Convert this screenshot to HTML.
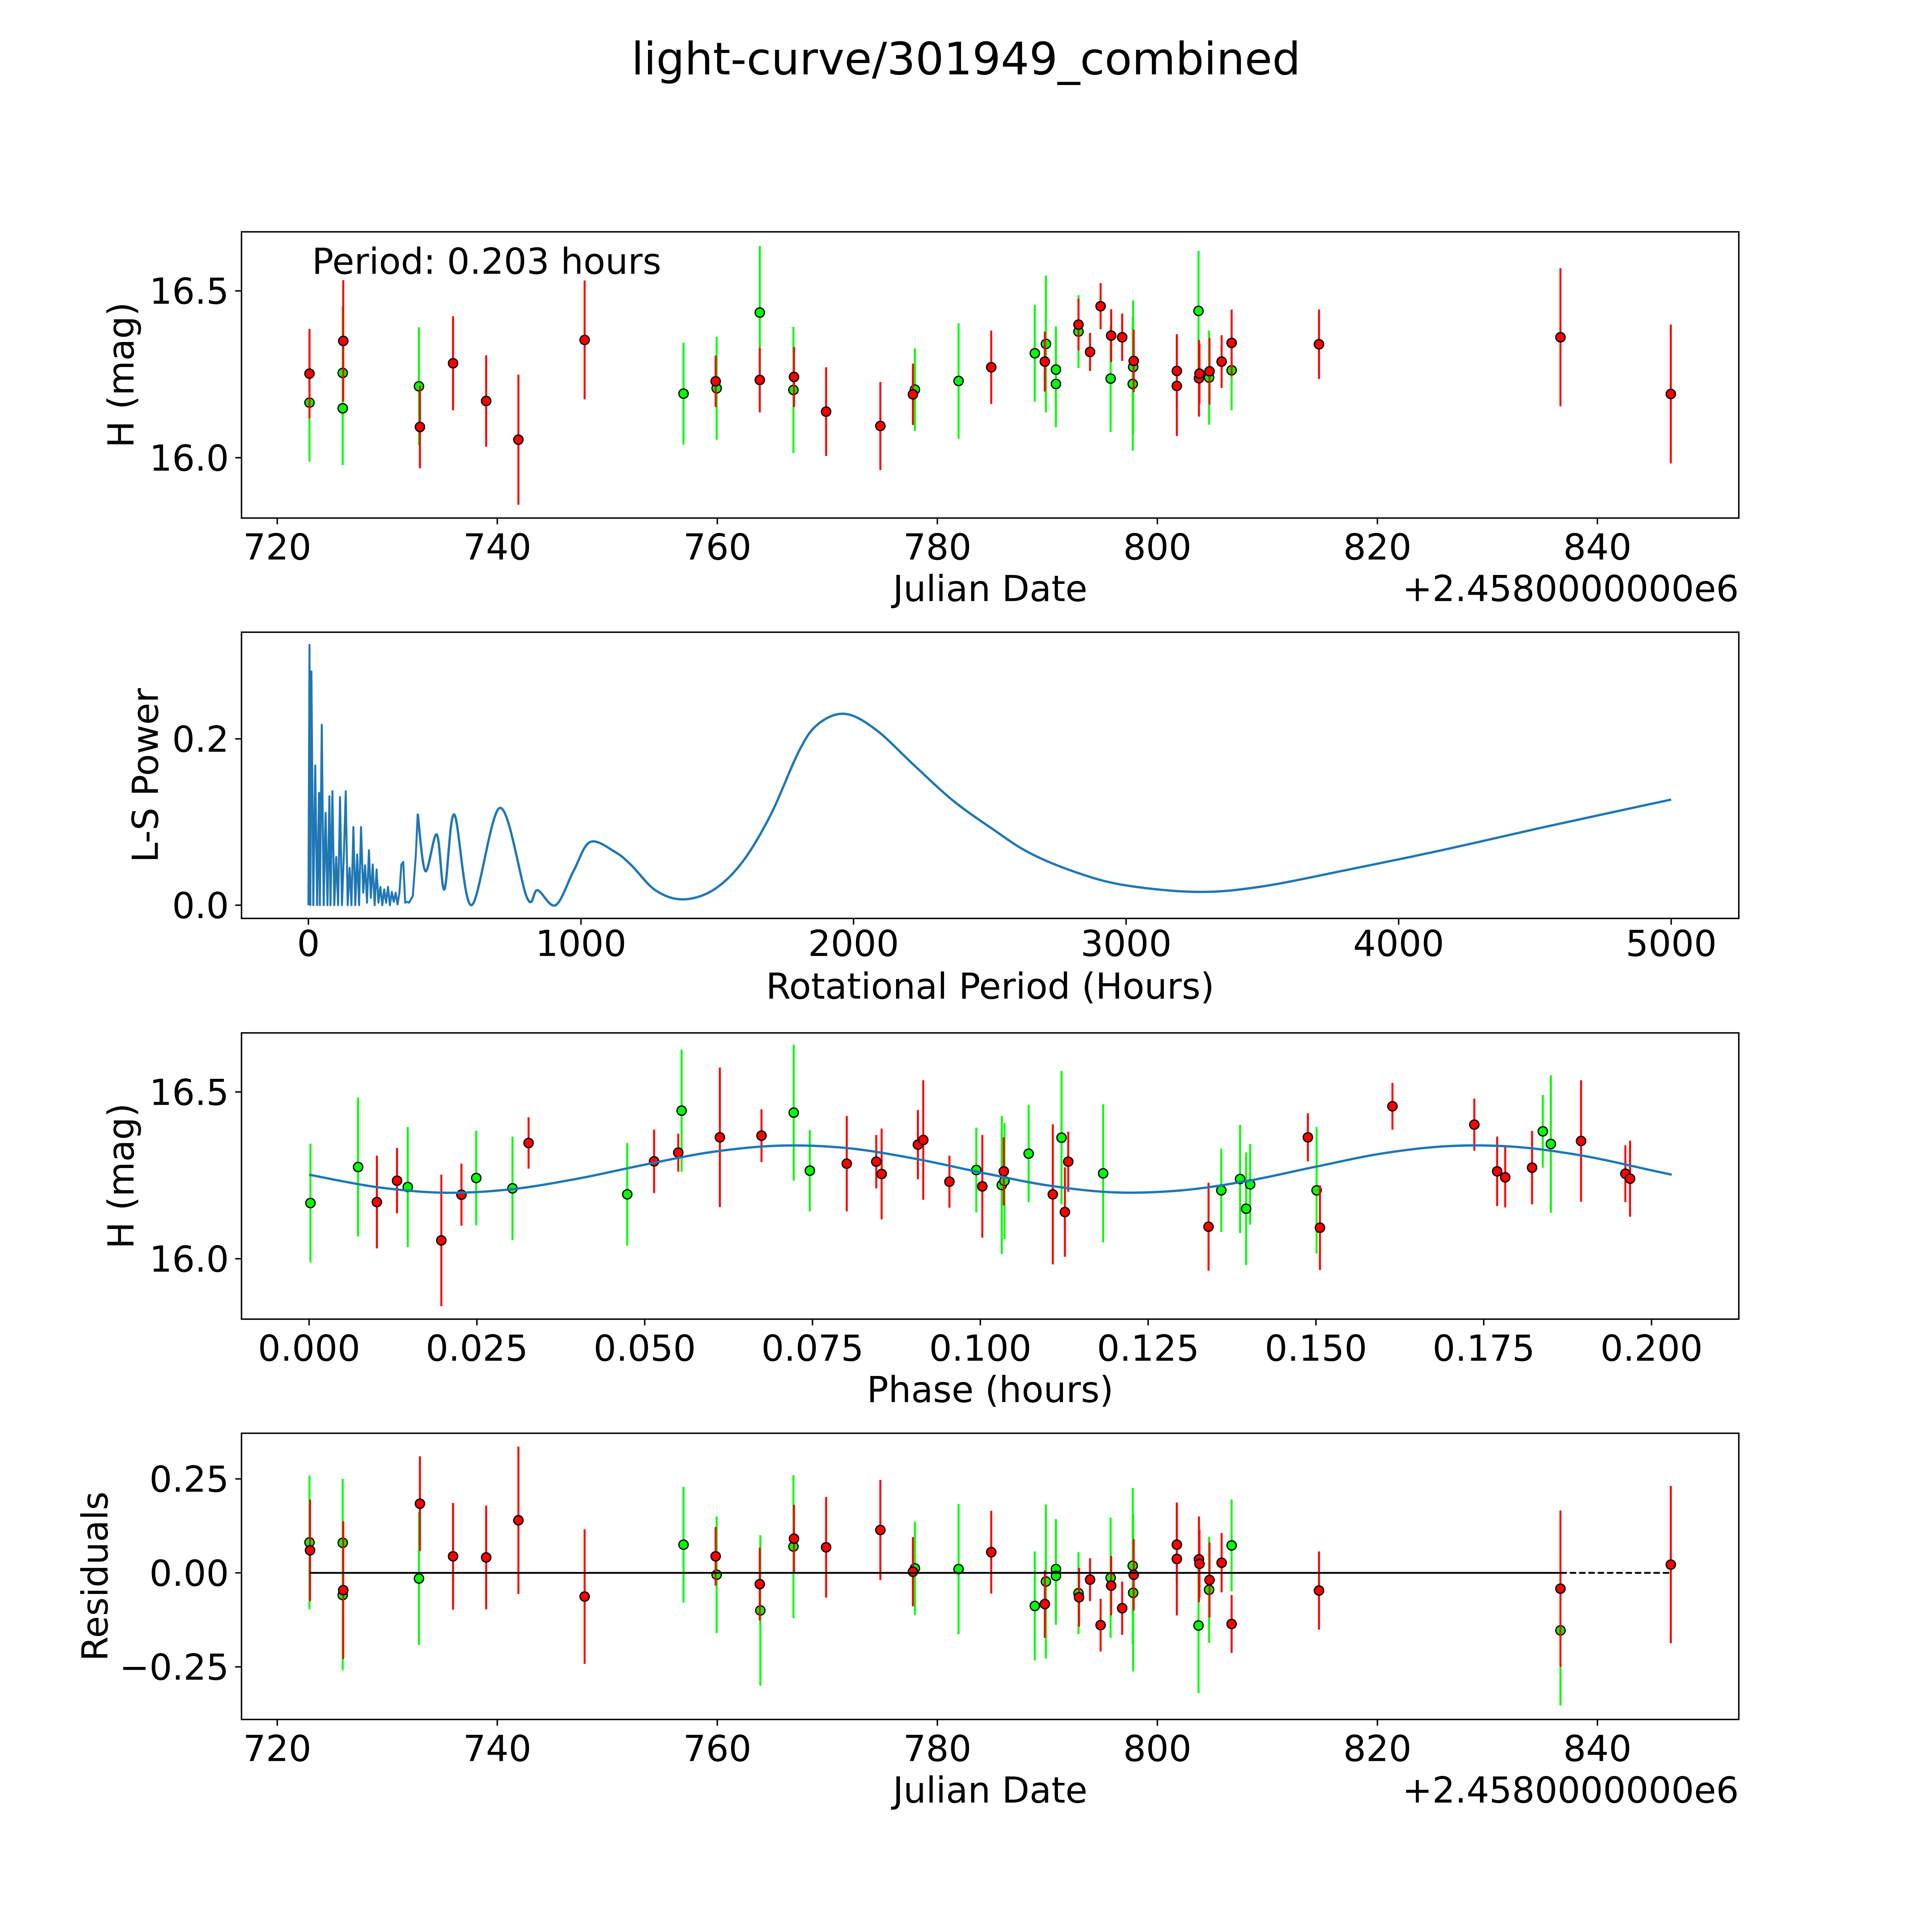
<!DOCTYPE html>
<html><head><meta charset="utf-8"><title>light-curve/301949_combined</title>
<style>
html,body{margin:0;padding:0;background:#fff;overflow:hidden;}
svg{display:block;width:100vw;height:100vw;font-family:"DejaVu Sans","Liberation Sans",sans-serif;}
</style></head>
<body>
<svg id="fig" xmlns="http://www.w3.org/2000/svg" viewBox="0 0 5400 5400" preserveAspectRatio="xMinYMin meet">
<rect x="0" y="0" width="5400" height="5400" fill="#ffffff"/>
<text x="2700" y="208" font-size="125" text-anchor="middle" fill="#000">light-curve/301949_combined</text>
</svg>
<script>
// ---- Panel 1: light curve (Julian Date) ----
const p1GreenDays=[722.93,725.95,725.95,732.88,756.93,759.94,763.86,766.92,777.96,781.93,788.86,789.87,790.78,790.78,792.83,795.75,797.76,797.8,803.74,804.7,806.75];
const p1GreenMags=[16.165,16.254,16.148,16.214,16.192,16.208,16.435,16.203,16.204,16.230,16.313,16.341,16.264,16.221,16.378,16.237,16.221,16.272,16.440,16.240,16.262];
const p1GreenErrs=[0.177,0.2,0.17,0.177,0.153,0.154,0.2,0.189,0.124,0.173,0.145,0.205,0.13,0.13,0.109,0.16,0.2,0.2,0.18,0.141,0.12];
const p1RedDays=[722.93,726.0,732.97,735.98,738.99,741.92,747.94,759.85,763.86,766.97,769.89,774.82,777.78,784.9,789.77,792.83,793.88,794.84,795.8,796.8,797.85,801.77,801.77,803.78,803.83,804.74,805.84,806.75,814.69,836.64,846.67];
const p1RedMags=[16.252,16.350,16.092,16.283,16.170,16.054,16.353,16.229,16.233,16.242,16.138,16.095,16.190,16.271,16.288,16.399,16.317,16.454,16.366,16.361,16.290,16.260,16.215,16.238,16.252,16.259,16.288,16.344,16.340,16.361,16.191];
const p1RedErrs=[0.134,0.182,0.124,0.141,0.137,0.195,0.178,0.077,0.097,0.09,0.133,0.132,0.092,0.11,0.09,0.078,0.057,0.069,0.079,0.071,0.094,0.11,0.15,0.115,0.09,0.10,0.079,0.1,0.104,0.207,0.208];
const jdTicks=[720,740,760,780,800,820,840];
const magTicks=[16.0,16.5];
const magTickLabels=["16.0","16.5"];

// ---- Panel 2: Lomb-Scargle periodogram ----
const lsSpikyHours=[0,4,7,11,18,25,32,39,42,49,56,63,70,77,81,88,95,102,109,116,123,130,137,144,151,158,165,172,179,186,193,201,208,215,222,229,236,243,250,257,264,271,278,285,292,299,306,313,320,327,334,341,348,355,362,369,376,383,394,401];
const lsSpikyPower=[0,0.313,0,0.281,0,0.168,0,0.135,0,0.217,0,0.111,0,0.131,0,0.137,0,0.058,0,0.130,0,0.060,0.137,0,0.045,0,0.094,0,0.061,0,0.094,0.015,0.048,0.003,0.066,0.009,0.049,0,0.043,0.003,0.022,0,0.019,0.003,0.022,0,0.016,0.004,0.015,0.001,0.015,0.049,0.052,0.003,0.004,0.003,0.007,0.011,0.060,0.110];
const lsSmoothHours=[401,429,471,499,535,598,703,802,841,907,974,1034,1125,1185,1273,1372,1484,1590,1695,1801,1871,1969,2082,2223,2364,2504,2645,2821,2996,3257,3489,3805,4157,4508,5000];
const lsSmoothPower=[0.110,0.041,0.085,0.019,0.109,0.0,0.117,0.009,0.018,0.0,0.042,0.076,0.064,0.048,0.018,0.007,0.018,0.051,0.108,0.186,0.218,0.230,0.211,0.168,0.126,0.093,0.063,0.039,0.024,0.016,0.022,0.042,0.066,0.092,0.127];
const periodTicks=[0,1000,2000,3000,4000,5000];
const powerTicks=[0.0,0.2];
const powerTickLabels=["0.0","0.2"];

// ---- Panel 3: phase-folded ----
const p3GreenPhase=[0.0002,0.0073,0.0147,0.0249,0.0303,0.0474,0.0555,0.0722,0.0746,0.0994,0.1032,0.1036,0.1072,0.1121,0.1183,0.1359,0.1387,0.1396,0.1402,0.1501,0.1838,0.185];
const p3GreenMags=[16.167,16.275,16.215,16.242,16.211,16.193,16.444,16.438,16.264,16.266,16.221,16.233,16.315,16.363,16.256,16.205,16.239,16.150,16.223,16.205,16.382,16.344];
const p3GreenErrs=[0.178,0.208,0.18,0.142,0.155,0.154,0.183,0.204,0.122,0.127,0.207,0.174,0.146,0.2,0.207,0.125,0.162,0.169,0.121,0.19,0.109,0.206];
const p3RedPhase=[0.0101,0.0131,0.0197,0.0227,0.0327,0.0514,0.055,0.0612,0.0674,0.0801,0.0845,0.0853,0.0907,0.0915,0.0954,0.1003,0.1035,0.1108,0.1126,0.1131,0.134,0.1488,0.1506,0.1614,0.1736,0.177,0.1782,0.1822,0.1895,0.1961,0.1968];
const p3RedMags=[16.170,16.234,16.055,16.192,16.347,16.292,16.318,16.364,16.369,16.285,16.291,16.254,16.342,16.356,16.231,16.217,16.262,16.193,16.140,16.291,16.096,16.364,16.093,16.457,16.402,16.262,16.244,16.273,16.353,16.255,16.240];
const p3RedErrs=[0.139,0.098,0.197,0.093,0.077,0.095,0.057,0.209,0.079,0.143,0.08,0.136,0.104,0.179,0.078,0.154,0.102,0.21,0.134,0.09,0.132,0.072,0.127,0.07,0.078,0.104,0.09,0.11,0.182,0.085,0.114];
const modelPhase=[0,0.01,0.02,0.03,0.04,0.05,0.06,0.07,0.08,0.09,0.10,0.11,0.12,0.13,0.14,0.15,0.16,0.17,0.18,0.19,0.20,0.203];
const modelMags=[16.252,16.215,16.198,16.208,16.240,16.282,16.320,16.339,16.332,16.301,16.259,16.220,16.199,16.205,16.234,16.276,16.316,16.338,16.335,16.308,16.265,16.252];
const phaseTicks=[0,0.025,0.05,0.075,0.1,0.125,0.15,0.175,0.2];
const phaseTickLabels=["0.000","0.025","0.050","0.075","0.100","0.125","0.150","0.175","0.200"];

// ---- Panel 4: residuals ----
const p4GreenDays=[722.93,725.95,725.95,732.88,756.93,759.94,763.91,766.92,777.96,781.93,788.86,789.87,790.78,790.78,792.83,795.75,797.76,797.8,803.74,804.7,806.75,836.64];
const p4GreenRes=[0.081,0.080,-0.059,-0.015,0.075,-0.005,-0.100,0.070,0.012,0.010,-0.088,-0.023,0.010,-0.008,-0.054,-0.013,0.019,-0.053,-0.140,-0.045,0.073,-0.153];
const p4GreenErrs=[0.178,0.17,0.2,0.177,0.154,0.155,0.2,0.19,0.124,0.173,0.145,0.205,0.133,0.13,0.109,0.16,0.207,0.209,0.18,0.141,0.122,0.2];
const p4RedDays=[722.98,726.0,732.97,735.98,738.99,741.92,747.94,759.85,763.86,766.97,769.89,774.82,777.78,784.9,789.77,792.88,793.88,794.84,795.8,796.8,797.85,801.77,801.77,803.78,803.83,804.74,805.84,806.75,814.69,836.64,846.67];
const p4RedRes=[0.060,-0.046,0.184,0.044,0.041,0.140,-0.063,0.044,-0.030,0.091,0.068,0.114,0.003,0.055,-0.083,-0.065,-0.018,-0.139,-0.034,-0.094,-0.005,0.075,0.037,0.036,0.024,-0.019,0.027,-0.136,-0.047,-0.042,0.022];
const p4RedErrs=[0.135,0.183,0.126,0.142,0.138,0.196,0.179,0.078,0.097,0.09,0.134,0.133,0.092,0.11,0.09,0.078,0.057,0.07,0.079,0.071,0.095,0.11,0.15,0.114,0.09,0.10,0.079,0.077,0.104,0.208,0.209];
const zeroSolidDays=[722.93,836.64];
const zeroDashedDays=[836.64,846.67];
const resTicks=[-0.25,0,0.25];
const resTickLabels=["\u22120.25","0.00","0.25"];

const NS="http://www.w3.org/2000/svg";
const fig=document.getElementById('fig');
function mk(tag,attrs,parent){const e=document.createElementNS(NS,tag);for(const k in attrs)e.setAttribute(k,attrs[k]);(parent||fig).appendChild(e);return e;}

const X0=675,X1=4860;
const axes=[
 {key:'lightcurve',y0:648,y1:1448,xmin:716.75,xmax:852.85,ymin:15.819,ymax:16.677},
 {key:'periodogram',y0:1767,y1:2567,xmin:-245.5,xmax:5248,ymin:-0.0159,ymax:0.3282},
 {key:'phased',y0:2887,y1:3687,xmin:-0.01007,xmax:0.2130,ymin:15.819,ymax:16.677},
 {key:'residuals',y0:4006,y1:4806,xmin:716.75,xmax:852.85,ymin:-0.390,ymax:0.3714}
];
function sx(a,v){return X0+(v-a.xmin)/(a.xmax-a.xmin)*(X1-X0);}
function sy(a,v){return a.y1-(v-a.ymin)/(a.ymax-a.ymin)*(a.y1-a.y0);}

function drawErrSeries(a,g,xs,ys,es,color,name){
  for(let i=0;i<xs.length;i++){
    const l=mk('line',{x1:sx(a,xs[i]),x2:sx(a,xs[i]),y1:sy(a,ys[i]+es[i]),y2:sy(a,ys[i]-es[i]),stroke:color,'stroke-width':5.5},g);
    
    
  }
  for(let i=0;i<xs.length;i++){
    const c=mk('circle',{cx:sx(a,xs[i]),cy:sy(a,ys[i]),r:13,fill:color,stroke:'#000','stroke-width':3.5},g);
    
    
  }
}
function smoothPath(pts){
  let d='M'+pts[0][0]+','+pts[0][1];
  for(let i=0;i<pts.length-1;i++){
    const p0=pts[Math.max(0,i-1)],p1=pts[i],p2=pts[i+1],p3=pts[Math.min(pts.length-1,i+2)];
    const c1x=p1[0]+(p2[0]-p0[0])/6,c1y=p1[1]+(p2[1]-p0[1])/6;
    const c2x=p2[0]-(p3[0]-p1[0])/6,c2y=p2[1]-(p3[1]-p1[1])/6;
    d+=' C'+c1x+','+c1y+' '+c2x+','+c2y+' '+p2[0]+','+p2[1];
  }
  return d;
}
function frame(a,g,xt,xtl,yt,ytl,xlabel,ylabel,ylabelX,xtickBase,xlabelBase){
  const sp=mk('rect',{x:X0,y:a.y0,width:X1-X0,height:a.y1-a.y0,fill:'none',stroke:'#000','stroke-width':4},g);
  
  
  for(let i=0;i<xt.length;i++){
    const x=sx(a,xt[i]);
    const t=mk('line',{x1:x,x2:x,y1:a.y1,y2:a.y1+17.5,stroke:'#000','stroke-width':4},g);
    
    
    const tl=mk('text',{x:x,y:a.y1+xtickBase,'font-size':100,'text-anchor':'middle',fill:'#000'},g);
    tl.textContent=xtl[i];
    
    
  }
  for(let i=0;i<yt.length;i++){
    const y=sy(a,yt[i]);
    const t=mk('line',{x1:X0-17.5,x2:X0,y1:y,y2:y,stroke:'#000','stroke-width':4},g);
    
    
    const tl=mk('text',{x:640,y:y+36,'font-size':100,'text-anchor':'end',fill:'#000'},g);
    tl.textContent=ytl[i];
    
    
  }
  const xl=mk('text',{x:(X0+X1)/2,y:a.y1+xlabelBase,'font-size':100,'text-anchor':'middle',fill:'#000'},g);
  xl.textContent=xlabel;
  
  
  const yc=(a.y0+a.y1)/2;
  const yl=mk('text',{x:ylabelX,y:yc,'font-size':100,'text-anchor':'middle',fill:'#000',transform:'rotate(-90 '+ylabelX+' '+yc+')'},g);
  yl.textContent=ylabel;
  
  
}
function offsetText(a,g){
  const t=mk('text',{x:X1,y:a.y1+232,'font-size':100,'text-anchor':'end',fill:'#000'},g);
  t.textContent='+2.4580000000e6';
  
  
}
const jdLabels=jdTicks.map(String);

// Panel 1
{
  const a=axes[0];
  const g=mk('g',{});
  
  
  drawErrSeries(a,g,p1GreenDays,p1GreenMags,p1GreenErrs,'#00ff00','green-observation');
  drawErrSeries(a,g,p1RedDays,p1RedMags,p1RedErrs,'#ff0000','red-observation');
  const pt=mk('text',{x:872,y:765,'font-size':100,fill:'#000'},g);
  pt.textContent='Period: 0.203 hours';
  
  
  frame(a,g,jdTicks,jdLabels,magTicks,magTickLabels,'Julian Date','H (mag)',373,116,232);
  offsetText(a,g);
}
// Panel 2
{
  const a=axes[1];
  const g=mk('g',{});
  
  
  let pts='';
  for(let i=0;i<lsSpikyHours.length;i++){pts+=sx(a,lsSpikyHours[i])+','+sy(a,lsSpikyPower[i])+' ';}
  const pl=mk('polyline',{points:pts,fill:'none',stroke:'#1f77b4','stroke-width':5.5,'stroke-linejoin':'round'},g);
  
  
  const sm=[];
  for(let i=0;i<lsSmoothHours.length;i++)sm.push([sx(a,lsSmoothHours[i]),sy(a,lsSmoothPower[i])]);
  const sp=mk('path',{d:smoothPath(sm),fill:'none',stroke:'#1f77b4','stroke-width':6.5},g);
  
  
  frame(a,g,periodTicks,periodTicks.map(String),powerTicks,powerTickLabels,'Rotational Period (Hours)','L-S Power',441,105,224);
}
// Panel 3
{
  const a=axes[2];
  const g=mk('g',{});
  
  
  drawErrSeries(a,g,p3GreenPhase,p3GreenMags,p3GreenErrs,'#00ff00','green-phased-observation');
  drawErrSeries(a,g,p3RedPhase,p3RedMags,p3RedErrs,'#ff0000','red-phased-observation');
  const mp=[];
  for(let i=0;i<modelPhase.length;i++)mp.push([sx(a,modelPhase[i]),sy(a,modelMags[i])]);
  const m=mk('path',{d:smoothPath(mp),fill:'none',stroke:'#1f77b4','stroke-width':6.5},g);
  
  
  frame(a,g,phaseTicks,phaseTickLabels,magTicks,magTickLabels,'Phase (hours)','H (mag)',373,116,232);
}
// Panel 4
{
  const a=axes[3];
  const g=mk('g',{});
  
  
  drawErrSeries(a,g,p4GreenDays,p4GreenRes,p4GreenErrs,'#00ff00','green-residual');
  drawErrSeries(a,g,p4RedDays,p4RedRes,p4RedErrs,'#ff0000','red-residual');
  const zl=mk('line',{x1:sx(a,zeroSolidDays[0]),x2:sx(a,zeroSolidDays[1]),y1:sy(a,0),y2:sy(a,0),stroke:'#000','stroke-width':5},g);
  
  
  const zd=mk('line',{x1:sx(a,zeroDashedDays[0]),x2:sx(a,zeroDashedDays[1]),y1:sy(a,0),y2:sy(a,0),stroke:'#000','stroke-width':5,'stroke-dasharray':'18,8'},g);
  
  
  frame(a,g,jdTicks,jdLabels,resTicks,resTickLabels,'Julian Date','Residuals',300,116,232);
  offsetText(a,g);
}
</script>
</body></html>
